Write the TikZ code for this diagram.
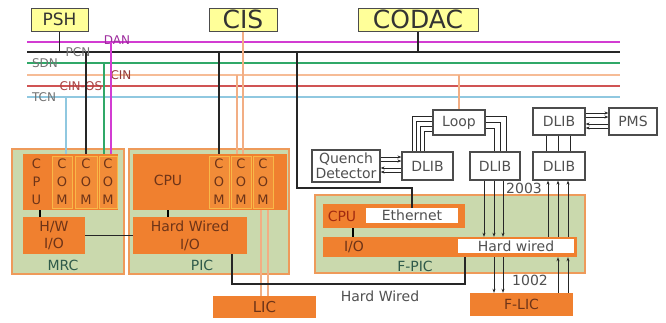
\documentclass[tikz,border=0pt]{standalone}
\usepackage{fontspec}
\setmainfont{DejaVu Sans}
\usetikzlibrary{arrows.meta}
\definecolor{orng}{HTML}{F0802F}
\definecolor{grn}{HTML}{CAD9AD}
\definecolor{grnedge}{HTML}{EE9A5A}
\definecolor{comedge}{HTML}{F8B848}
\definecolor{comfill}{HTML}{F28C38}
\definecolor{ylw}{HTML}{FFFF99}
\definecolor{busmag}{HTML}{D23CD2}
\definecolor{busgrn}{HTML}{30A868}
\definecolor{buspch}{HTML}{F6BC96}
\definecolor{peachw}{HTML}{F2AE84}
\definecolor{busred}{HTML}{D05454}
\definecolor{busblu}{HTML}{90C8E0}
\definecolor{brn}{HTML}{6E3418}
\definecolor{lblgrn}{HTML}{2F5A4A}
\definecolor{txtgray}{HTML}{505050}
\definecolor{cpured}{HTML}{A02A10}
\newcommand{\mybox}[7]{\node[#6, minimum width={(#4-#2)*1pt}, minimum height={(#5-#3)*1pt}] (#1) at ({(#2+#4)/2},{(#3+#5)/2}) {#7};}
\begin{document}
\begin{tikzpicture}[x=1pt,y=-1pt,
  yel/.style={draw=black!70, fill=ylw, line width=1pt, inner sep=0pt, text=black!80},
  grnbox/.style={draw=grnedge, fill=grn, line width=1.2pt, inner sep=0pt},
  orbox/.style={fill=orng, inner sep=0pt, text=brn, align=center, font=\fontsize{14}{18}\selectfont},
  comcell/.style={draw=comedge, fill=comfill, line width=0.8pt, inner sep=0pt, text=brn, align=center, font=\fontsize{13}{18}\selectfont},
  whbox/.style={draw=black!70, fill=white, line width=1.2pt, inner sep=0pt, text=txtgray, align=center, font=\fontsize{14}{15}\selectfont},
  bus/.style={line width=2.2pt},
  buslbl/.style={inner sep=0pt, font=\fontsize{12}{12}\selectfont},
  lbl/.style={inner sep=0pt, font=\fontsize{14}{14}\selectfont},
  wire/.style={line width=1pt, black!85},
  joint/.style={line width=2pt, black},
  pch/.style={line width=1.1pt, peachw},
  arr/.style={wire, -{Stealth[length=4pt,width=3pt]}},
]
\fill[white] (0,0) rectangle (666,322);
\useasboundingbox (0,0) rectangle (666,322);

% top boxes
\mybox{psh}{31}{8}{88}{31}{yel, font=\fontsize{17}{17}\selectfont}{PSH}
\mybox{cis}{209}{8}{277}{31}{yel, font=\fontsize{25}{25}\selectfont}{CIS}
\mybox{codac}{358}{8}{478}{31}{yel, font=\fontsize{25}{25}\selectfont}{CODAC}

% buses
\coordinate (danL) at (27,42); \coordinate (danR) at (620,42);
\coordinate (pcnL) at (27,52); \coordinate (pcnR) at (620,52);
\coordinate (sdnL) at (27,63); \coordinate (sdnR) at (620,63);
\coordinate (cinL) at (27,75); \coordinate (cinR) at (620,75);
\coordinate (cosL) at (27,86); \coordinate (cosR) at (620,86);
\coordinate (tcnL) at (27,97); \coordinate (tcnR) at (620,97);
\draw[bus, busmag] (danL) -- (danR);
\draw[bus, black!85] (pcnL) -- (pcnR);
\draw[bus, busgrn] (sdnL) -- (sdnR);
\draw[bus, buspch] (cinL) -- (cinR);
\draw[bus, busred] (cosL) -- (cosR);
\draw[bus, busblu] (tcnL) -- (tcnR);

\node[buslbl, text=busmag!75!black] (lDAN) at (117,40) {DAN};
\node[buslbl, text=black!55] (lPCN) at (78,52) {PCN};
\node[buslbl, text=black!55] (lSDN) at (45,63) {SDN};
\node[buslbl, text=busred!70!black] (lCIN) at (121,75) {CIN};
\node[buslbl, text=busred!80!black] (lCOS) at (81,86) {CIN-OS};
\node[buslbl, text=black!55] (lTCN) at (44,97) {TCN};

% drops from top boxes
\draw[wire, line width=1.2pt] (psh.south) -- (psh.south |- pcnL);
\draw[wire, line width=1.2pt] (codac.south) -- (codac.south |- pcnL);

% MRC
\mybox{mrc}{12}{149}{124}{274}{grnbox}{}
\mybox{mrctop}{23}{154}{118}{210}{orbox}{}
\mybox{mrccpu}{23}{154}{50}{210}{orbox, font=\fontsize{13}{18}\selectfont}{C\\P\\U}
\mybox{mrccom1}{52}{156}{72}{208}{comcell}{C\\O\\M}
\mybox{mrccom2}{75}{156}{97}{208}{comcell}{C\\O\\M}
\mybox{mrccom3}{99}{156}{117}{208}{comcell}{C\\O\\M}
\mybox{mrchw}{23}{217}{85}{254}{orbox, font=\fontsize{14}{17}\selectfont}{H/W\\I/O}
\node[lbl, text=lblgrn] (mrclbl) at (63,265) {MRC};
\coordinate (mj) at (40,210);
\draw[joint] (mj) -- (mj |- mrchw.north);

% PIC
\mybox{pic}{129}{149}{289}{274}{grnbox}{}
\mybox{pictop}{133}{154}{287}{210}{orbox}{}
\node[lbl, text=brn] (piccpu) at (168,180) {CPU};
\mybox{piccom1}{209}{156}{229}{208}{comcell}{C\\O\\M}
\mybox{piccom2}{231}{156}{251}{208}{comcell}{C\\O\\M}
\mybox{piccom3}{253}{156}{273}{208}{comcell}{C\\O\\M}
\mybox{pichw}{133}{217}{247}{254}{orbox, font=\fontsize{14}{18}\selectfont}{Hard Wired\\I/O}
\node[lbl, text=lblgrn] (piclbl) at (202,265) {PIC};
\draw[joint] (piccpu.south |- pictop.south) -- (piccpu.south |- pichw.north);

% MRC -> PIC hard wire
\draw[wire, line width=1.3pt] (mrchw.east) -- (mrchw.east -| pichw.west);

% bus drops to MRC
\draw[busblu, line width=1.3pt] (66,0 |- tcnL) -- (66,0 |- mrctop.north);
\draw[wire, line width=1.3pt] (86,0 |- pcnL) -- (86,0 |- mrctop.north);
\draw[busgrn, line width=1.3pt] (104,0 |- sdnL) -- (104,0 |- mrctop.north);
\draw[busmag, line width=1.3pt] (111,0 |- danL) -- (111,0 |- mrctop.north);

% bus drops to PIC
\draw[wire, line width=1.3pt] (piccom1.north |- pcnL) -- (piccom1.north |- pictop.north);
\draw[pch] (cis.south) -- (cis.south |- pictop.north);
\draw[pch] (237,0 |- cinL) -- (237,0 |- pictop.north);

% LIC
\mybox{lic}{213}{296}{316}{318}{orbox, font=\fontsize{15}{15}\selectfont}{LIC}
\draw[pch] (261,0 |- pictop.south) -- (261,0 |- lic.north);
\draw[pch] (268,0 |- pictop.south) -- (268,0 |- lic.north);

% F-PIC
\mybox{fpic}{315}{195}{585}{273}{grnbox}{}
\mybox{fcpu}{323}{204}{465}{228}{orbox}{}
\node[lbl, text=cpured] (fcpulbl) at (342,216) {CPU};
\mybox{eth}{366}{208}{458}{223}{fill=white, inner sep=0pt, text=txtgray, font=\fontsize{14}{14}\selectfont}{Ethernet}
\mybox{fio}{323}{237}{577}{257}{orbox}{}
\node[lbl, text=brn] (fiolbl) at (354,247) {I/O};
\mybox{fhw}{458}{239}{574}{253}{fill=white, inner sep=0pt, text=txtgray, font=\fontsize{14}{14}\selectfont}{Hard wired}
\node[lbl, text=lblgrn] (fpiclbl) at (415,266) {F-PIC};
\coordinate (fj) at (353,228);
\draw[joint] (fj) -- (fj |- fio.north);

% F-LIC
\mybox{flic}{470}{293}{573}{316}{orbox, font=\fontsize{14}{14}\selectfont}{F-LIC}

% labels
\node[lbl, text=txtgray] (hwlbl) at (380,296) {Hard Wired};
\node[lbl, text=txtgray] (l1002) at (530,280) {1002};
\node[lbl, text=txtgray] (l2003) at (524,188) {2003};

% PIC HW -> F-PIC I/O
\coordinate (hwa) at (232,254);
\coordinate (hwb) at (465,257);
\draw[wire, line width=1.3pt] (hwa) -- ++(0,30) -| (hwb);

% PCN -> Ethernet
\coordinate (pe) at (297,52);
\draw[wire, line width=1.3pt] (pe) -- ++(0,136) -| (eth.north);

% right side boxes
\mybox{quench}{312}{150}{380}{182}{whbox}{Quench\\Detector}
\mybox{dlib1}{402}{152}{453}{180}{whbox}{DLIB}
\mybox{loop}{433}{110}{485}{135}{whbox}{Loop}
\mybox{dlib2}{470}{152}{520}{180}{whbox}{DLIB}
\mybox{dlib3}{533}{152}{585}{180}{whbox}{DLIB}
\mybox{dlib4}{533}{108}{585}{135}{whbox}{DLIB}
\mybox{pms}{609}{108}{657}{135}{whbox}{PMS}

% CIN -> Loop
\draw[pch] (loop.north |- cinL) -- (loop.north);

% Quench <-> DLIB1
\foreach \yy in {157,161} \draw[arr] (quench.east |- 0,\yy) -- (dlib1.west |- 0,\yy);
\foreach \yy in {168,172} \draw[arr] (dlib1.west |- 0,\yy) -- (quench.east |- 0,\yy);

% Loop -> DLIB1, DLIB2
\foreach \yy/\xx in {116/412,121/416,126/420,131/424}
  \draw[wire] (loop.west |- 0,\yy) -| (\xx,0 |- dlib1.north);
\foreach \yy/\xx in {116/506,122/500,128/494}
  \draw[wire] (loop.east |- 0,\yy) -| (\xx,0 |- dlib2.north);

% DLIB4 <-> PMS
\foreach \yy in {113,117} \draw[arr] (dlib4.east |- 0,\yy) -- (pms.west |- 0,\yy);
\foreach \yy in {124,128} \draw[arr] (pms.west |- 0,\yy) -- (dlib4.east |- 0,\yy);

% DLIB4 - DLIB3
\foreach \xx in {546,558,570} \draw[wire] (\xx,0 |- dlib4.south) -- (\xx,0 |- dlib3.north);

% DLIB2 -> hard wired
\foreach \xx in {484,494,503} \draw[arr] (\xx,0 |- dlib2.south) -- (\xx,0 |- fio.north);
% hard wired -> F-LIC
\foreach \xx in {494,503} \draw[arr] (\xx,0 |- fio.south) -- (\xx,0 |- flic.north);
% F-LIC -> hard wired
\foreach \xx in {558,568} \draw[arr] (\xx,0 |- flic.north) -- (\xx,0 |- fio.south);
% hard wired -> DLIB3
\foreach \xx in {548,558,568} \draw[arr] (\xx,0 |- fio.north) -- (\xx,0 |- dlib3.south);
\end{tikzpicture}
\end{document}
